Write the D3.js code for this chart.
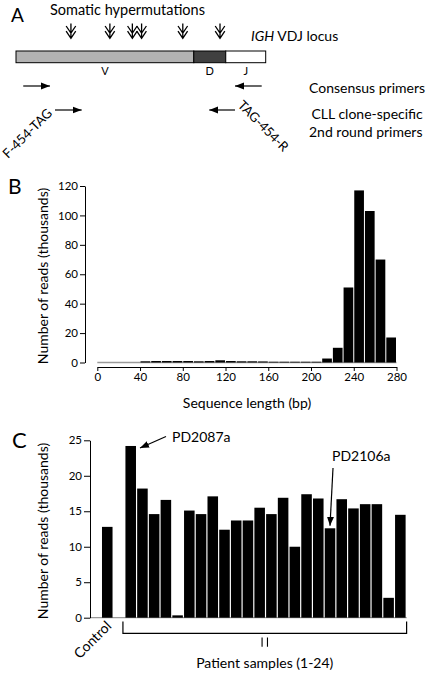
<!DOCTYPE html>
<html><head><meta charset="utf-8">
<script src="https://cdn.jsdelivr.net/npm/d3@7"></script>
<style>
body{margin:0;background:#fff;}
svg{display:block;font-family:Lato,"Open Sans",sans-serif;}
</style></head><body>
<svg id="c" width="428" height="674"></svg>
<script>
// ---------- Panel A data ----------
const locusSegments = ["V", "D", "J"];
const segmentStarts = [0, 0.712, 0.84];
const segmentEnds = [0.712, 0.84, 1];
const segmentFills = ["#b3b3b3", "#404040", "#ffffff"];
const mutationSites = [0.22, 0.376, 0.466, 0.503, 0.668, 0.817];
const primerRowLabels = [["Consensus primers"], ["CLL clone-specific", "2nd round primers"]];
const forwardPrimerFrom = [0.029, 0.156];
const forwardPrimerTo = [0.136, 0.263];
const reversePrimerFrom = [0.984, 0.877];
const reversePrimerTo = [0.877, 0.774];
const primerNames = ["F-454-TAG", "TAG-454-R"];

// ---------- Panel B data ----------
const binStarts = [0,10,20,30,40,50,60,70,80,90,100,110,120,130,140,150,160,170,180,190,200,210,220,230,240,250,260,270];
const binReadsK = [0,0,0,0,0.8,1,1,1,1,0.8,1,1.5,1,0.8,0.8,0.7,0.5,0.5,0.5,0.5,0.5,2.7,10,51,117,103,70,17];
const binWidth = 10;
const bTicksX = [0,40,80,120,160,200,240,280];
const bTicksY = [0,20,40,60,80,100,120];

// ---------- Panel C data ----------
const sampleNames = ["Control","gap","1","2","3","4","5","6","7","8","9","10","11","12","13","14","15","16","17","18","19","20","21","22","23","24"];
const controlReadsK = [12.8];
const patientReadsK = [24.2,18.2,14.6,16.6,0.33,15.1,14.6,17.1,12.4,13.7,13.7,15.5,14.6,16.9,10.0,17.4,16.8,12.6,16.7,15.4,16.0,16.0,2.8,14.5];
const cTicksY = [0,5,10,15,20,25];
const annotSamples = ["1", "18"];
const annotLabels = ["PD2087a", "PD2106a"];

const FS = 14;
const svg = d3.select("#c");
const defs = svg.append("defs");
defs.append("marker").attr("id","ah").attr("markerUnits","userSpaceOnUse")
  .attr("markerWidth",10).attr("markerHeight",8).attr("refX",9).attr("refY",4)
  .attr("orient","auto").append("path").attr("d","M0,0.5L9,4L0,7.5Z").attr("fill","#000");

function txt(x, y, s, size, anchor) {
  return svg.append("text").attr("x", x).attr("y", y).attr("font-size", size)
    .attr("text-anchor", anchor || "start").attr("fill", "#000").text(s);
}

// ================= Panel A =================
txt(11, 22, "A", 19);
txt(50, 15, "Somatic hypermutations", 14.5);
const locX = d3.scaleLinear().domain([0, 1]).range([16, 265.7]);
const locY = 51, locH = 11.7;
locusSegments.forEach((s, i) => {
  svg.append("rect").attr("x", locX(segmentStarts[i])).attr("y", locY)
    .attr("width", locX(segmentEnds[i]) - locX(segmentStarts[i])).attr("height", locH)
    .attr("fill", segmentFills[i]).attr("stroke", "#000").attr("stroke-width", 1);
  txt((locX(segmentStarts[i]) + locX(segmentEnds[i])) / 2, 75, s, 11, "middle");
});
const igh = svg.append("text").attr("x", 251).attr("y", 41).attr("font-size", FS).attr("fill","#000");
igh.append("tspan").attr("font-style", "italic").text("IGH");
igh.append("tspan").text(" VDJ locus");

mutationSites.forEach(m => {
  const x = locX(m);
  svg.append("path")
    .attr("d", `M${x},23.5V38 M${x-4.8},26L${x},33L${x+4.8},26 M${x-4.8},31.2L${x},38.4L${x+4.8},31.2`)
    .attr("fill", "none").attr("stroke", "#000").attr("stroke-width", 1.3);
});

const primerYs = [86, 110];
primerYs.forEach((py, i) => {
  svg.append("line").attr("x1", locX(forwardPrimerFrom[i])).attr("x2", locX(forwardPrimerTo[i]))
    .attr("y1", py).attr("y2", py).attr("stroke", "#000").attr("stroke-width", 1.2).attr("marker-end", "url(#ah)");
  svg.append("line").attr("x1", locX(reversePrimerFrom[i])).attr("x2", locX(reversePrimerTo[i]))
    .attr("y1", py).attr("y2", py).attr("stroke", "#000").attr("stroke-width", 1.2).attr("marker-end", "url(#ah)");
  primerRowLabels[i].forEach((l, j) => txt(i === 0 ? 309 : (j === 0 ? 311.5 : 309), py + 7 + j * 18 + (i === 1 ? 2 : 0), l, FS));
});
svg.append("text").attr("transform", `translate(${locX(forwardPrimerFrom[1]) - 2},114) rotate(-45)`)
  .attr("text-anchor", "end").attr("font-size", 13).text(primerNames[0]);
svg.append("text").attr("transform", `translate(${locX(reversePrimerFrom[1]) + 2},106) rotate(45)`)
  .attr("text-anchor", "start").attr("font-size", 13).text(primerNames[1]);

// ================= Panel B =================
txt(8, 194, "B", 21);
const xB = d3.scaleLinear().domain([0, 280]).range([97.3, 396.5]);
const yB = d3.scaleLinear().domain([0, 120]).range([362.5, 186]);
svg.append("line").attr("x1", xB(0)).attr("x2", xB(280)).attr("y1", yB(0)).attr("y2", yB(0))
  .attr("stroke", "#9a9a9a").attr("stroke-width", 1.5);
svg.append("g").selectAll("rect").data(binStarts.filter((b, i) => binReadsK[i] > 0)).join("rect")
  .attr("x", b => xB(b) + 0.5).attr("width", b => xB(b + binWidth) - xB(b) - 1)
  .attr("y", b => yB(binReadsK[binStarts.indexOf(b)]))
  .attr("height", b => yB(0) - yB(binReadsK[binStarts.indexOf(b)]))
  .attr("fill", "#000");

function styleAxis(g) {
  g.attr("font-family", "Lato, 'Open Sans', sans-serif").attr("font-size", 11.5);
  g.selectAll("path,line").attr("stroke", "#000").attr("stroke-width", 1);
  g.selectAll("text").attr("fill", "#000");
}
svg.append("g").attr("transform", "translate(85,0)")
  .call(d3.axisLeft(yB).tickValues(bTicksY).tickSize(5).tickSizeOuter(0).tickPadding(2)).call(styleAxis);
svg.append("g").attr("transform", "translate(0,367)")
  .call(d3.axisBottom(xB).tickValues(bTicksX).tickSize(4).tickSizeOuter(0).tickPadding(2)).call(styleAxis);
txt(247, 408, "Sequence length (bp)", FS, "middle");
svg.append("text").attr("transform", "translate(48,276) rotate(-90)").attr("text-anchor", "middle")
  .attr("font-size", FS).text("Number of reads (thousands)");

// ================= Panel C =================
txt(12, 448, "C", 22);
const xC = d3.scaleBand().domain(sampleNames).range([101.4, 406.2]).paddingInner(0.1).paddingOuter(0.05);
const yC = d3.scaleLinear().domain([0, 25]).range([617.7, 440.3]);
const cValues = sampleNames.map((n, i) => i === 0 ? controlReadsK[0] : (i === 1 ? null : patientReadsK[i - 2]));
svg.append("line").attr("x1", 90).attr("x2", 406.7).attr("y1", yC(0)).attr("y2", yC(0))
  .attr("stroke", "#9a9a9a").attr("stroke-width", 1.3);
svg.append("g").selectAll("rect").data(sampleNames.filter((n, i) => cValues[i] !== null)).join("rect")
  .attr("x", n => xC(n)).attr("width", xC.bandwidth())
  .attr("y", n => yC(cValues[sampleNames.indexOf(n)]))
  .attr("height", n => yC(0) - yC(cValues[sampleNames.indexOf(n)]))
  .attr("fill", "#000");
svg.append("g").attr("transform", "translate(90,0)")
  .call(d3.axisLeft(yC).tickValues(cTicksY).tickSize(6).tickSizeOuter(0).tickPadding(2)).call(styleAxis);
svg.append("text").attr("transform", "translate(48,531) rotate(-90)").attr("text-anchor", "middle")
  .attr("font-size", FS).text("Number of reads (thousands)");

// annotations
(function () {
  const n0 = annotSamples[0], v0 = patientReadsK[sampleNames.indexOf(n0) - 2];
  const hx = xC(n0) + xC.bandwidth() + 4, hy = yC(v0) + 2;
  svg.append("line").attr("x1", hx + 26).attr("y1", hy - 11.5).attr("x2", hx).attr("y2", hy)
    .attr("stroke", "#000").attr("stroke-width", 1.2).attr("marker-end", "url(#ah)");
  txt(hx + 32, hy - 6, annotLabels[0], FS);
  const n1 = annotSamples[1], v1 = patientReadsK[sampleNames.indexOf(n1) - 2];
  const gx = xC(n1) + xC.bandwidth() / 2, gy = yC(v1) - 2.5;
  svg.append("line").attr("x1", gx + 3).attr("y1", 468).attr("x2", gx).attr("y2", gy)
    .attr("stroke", "#000").attr("stroke-width", 1.2).attr("marker-end", "url(#ah)");
  txt(gx + 2, 461, annotLabels[1], FS);
})();

// Control label and patient bracket
const ctrlX = xC("Control") + xC.bandwidth() / 2;
svg.append("text").attr("transform", `translate(${ctrlX + 5},627) rotate(-45)`).attr("text-anchor", "end")
  .attr("font-size", FS).text(sampleNames[0]);
const bx0 = xC("1") - 2.5, bx1 = xC("24") + xC.bandwidth() + 1;
svg.append("path").attr("d", `M${bx0},621.5V633.3H${bx1}V621.5`).attr("fill", "none")
  .attr("stroke", "#000").attr("stroke-width", 1.2);
const bmid = (bx0 + bx1) / 2;
svg.append("path").attr("d", `M${bmid - 2.7},637.5V646.8M${bmid + 2.7},637.5V646.8`).attr("stroke", "#000").attr("stroke-width", 1.1);
txt(bmid, 668, "Patient samples (1-24)", FS, "middle");
</script>
</body></html>
